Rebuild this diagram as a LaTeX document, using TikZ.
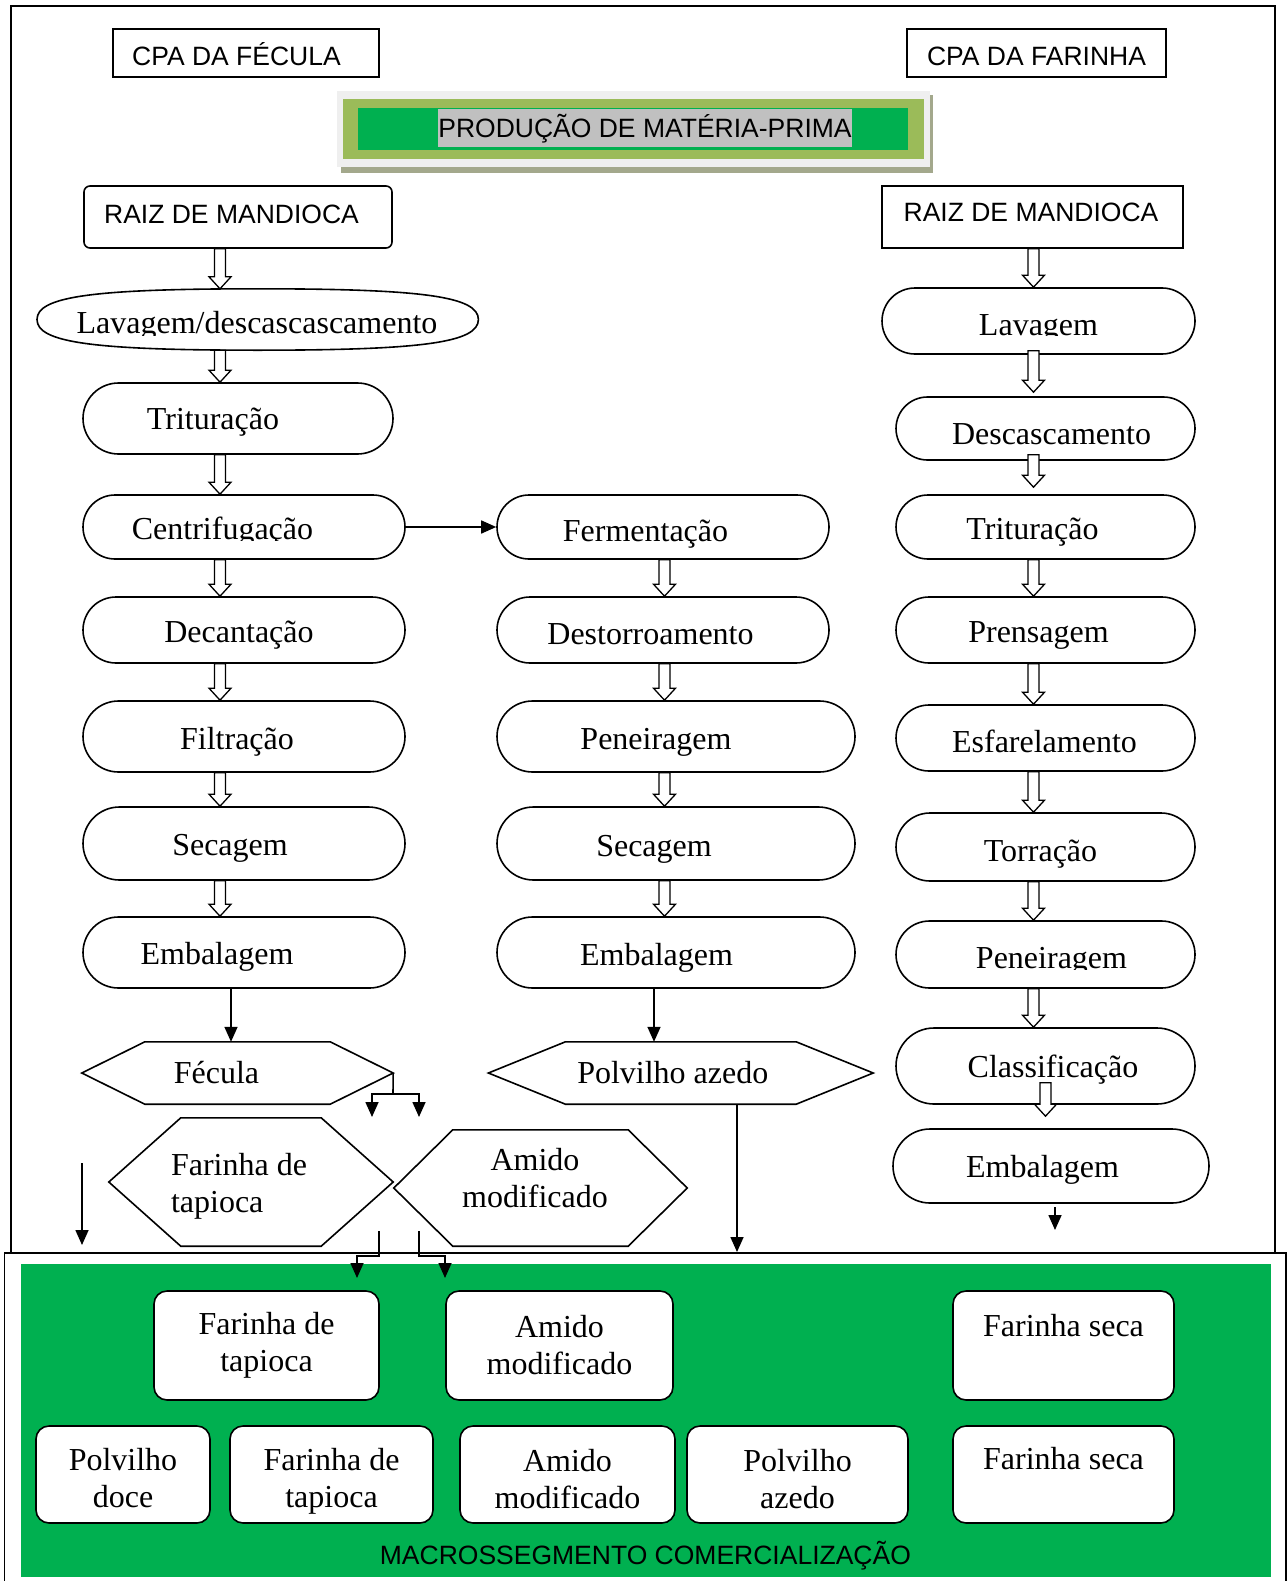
\documentclass[tikz,border=0pt]{standalone}
\usepackage{fontspec}
\setmainfont{Liberation Serif}
\setsansfont{Liberation Sans}
\usetikzlibrary{shapes.misc,arrows.meta,calc}

\definecolor{leafgreen}{HTML}{00B050}
\definecolor{olivegreen}{HTML}{9BBB59}
\definecolor{markgrey}{HTML}{C0C0C0}
\definecolor{palegrey}{HTML}{EFEFEF}
\definecolor{shadowgrey}{HTML}{A3A88C}

% hollow block arrow from #1 down to #2 (x taken from #1)
\newcommand\blockarrow[2]{%
  \path[blockarrowstyle] let \p1=(#1), \p2=(#2) in
    (\x1-5.5pt,\y1) -- (\x1-5.5pt,\y2+12pt) -- (\x1-11pt,\y2+12pt) -- (\x1,\y2)
    -- (\x1+11pt,\y2+12pt) -- (\x1+5.5pt,\y2+12pt) -- (\x1+5.5pt,\y1) -- cycle;}

% hexagon outline drawn on the borders of node #1, point depth #2
\newcommand\hexagon[2]{%
  \draw[hexline] (#1.west) -- ([xshift=#2]#1.north west) -- ([xshift=-#2]#1.north east)
    -- (#1.east) -- ([xshift=-#2]#1.south east) -- ([xshift=#2]#1.south west) -- cycle;}

\tikzset{
  seriffont/.style={font=\fontsize{32}{37}\selectfont},
  lbl/.style={seriffont, inner sep=0pt, text height=21pt, text depth=0pt},
  twolbl/.style={seriffont, inner sep=0pt},
  sanslbl/.style={font=\sffamily\fontsize{26.5}{30}\selectfont, inner sep=0pt, text height=19pt, text depth=0pt},
  rectbox/.style={rectangle, draw, line width=1.6pt, inner sep=0pt, fill=white},
  procbox/.style={rounded rectangle, draw, line width=1.6pt, inner sep=0pt, fill=white},
  hexnode/.style={rectangle, draw=none, inner sep=0pt},
  hexline/.style={line width=1.6pt, line join=miter, fill=white},
  prodbox/.style={rectangle, draw, line width=1.6pt, rounded corners=13pt, fill=white,
    seriffont, align=center, inner sep=0pt},
  flowarrow/.style={line width=1.6pt, -{Triangle[length=15pt,width=13pt]}},
  plainline/.style={line width=1.6pt},
  blockarrowstyle/.style={draw, fill=white, line width=1.3pt, line join=miter},
}

\begin{document}
\begin{tikzpicture}[x=1pt,y=-1pt]
\useasboundingbox (0,0) rectangle (1287,1581);

% frames
\draw[plainline] (11,6) rectangle (1275,1253);
\draw[plainline] (4.5,1253) rectangle (1286,1590);
\fill[leafgreen] (21,1264) rectangle (1271,1577);

% headers
\node[rectbox, minimum width=266pt, minimum height=48pt,
  label={[sanslbl,xshift=-9.5pt,yshift=-3pt]center:CPA DA FÉCULA}] (cpaFec) at (246,53) {};
\node[rectbox, minimum width=259pt, minimum height=48pt,
  label={[sanslbl,yshift=-3pt]center:CPA DA FARINHA}] (cpaFar) at (1036.5,53) {};

% banner
\fill[shadowgrey] (341,95) rectangle (933,173);
\fill[palegrey] (337,91) rectangle (930,167);
\fill[olivegreen] (343,99) rectangle (924,159);
\fill[leafgreen] (358,108) rectangle (908,150);
\node[sanslbl, fill=markgrey, minimum height=38pt] (banner) at (645,128.5) {PRODUÇÃO DE MATÉRIA-PRIMA};

% column x positions
\coordinate (colL) at (220,0);
\coordinate (colM) at (664.5,0);
\coordinate (colR) at (1033.5,0);
\coordinate (colC) at (1045.5,0);
\coordinate (xFec) at (231,0);
\coordinate (xPol) at (654,0);
\coordinate (xPolDown) at (737,0);

% left column
\node[rectbox, rounded corners=6pt, minimum width=308pt, minimum height=62pt,
  label={[sanslbl,xshift=-6.5pt,yshift=3.5pt]center:RAIZ DE MANDIOCA}] (raizL) at (238,217) {};
\node[rectangle, draw=none, inner sep=0pt,
  minimum width=441pt, minimum height=61pt] (lavL) at (257.7,319.5) {};
\draw[line width=1.6pt, fill=white]
  (lavL.west) .. controls +(0,-23) and +(-165,0) .. (lavL.north)
  .. controls +(165,0) and +(0,-23) .. (lavL.east)
  .. controls +(0,23) and +(165,0) .. (lavL.south)
  .. controls +(-165,0) and +(0,23) .. (lavL.west) -- cycle;
\node[procbox, minimum width=310pt, minimum height=71pt,
  label={[lbl,xshift=-25pt,yshift=-0.5pt]center:Trituração}] (tritL) at (238,418.5) {};
\node[procbox, minimum width=322pt, minimum height=64pt] (centL) at (244,527) {};
\node[procbox, minimum width=322pt, minimum height=66pt,
  label={[lbl,xshift=-5pt,yshift=-2pt]center:Decantação}] (decL) at (244,630) {};
\node[procbox, minimum width=322pt, minimum height=71pt,
  label={[lbl,xshift=-7pt,yshift=-2pt]center:Filtração}] (filL) at (244,736.5) {};
\node[procbox, minimum width=322pt, minimum height=73pt,
  label={[lbl,xshift=-14pt,yshift=-1pt]center:Secagem}] (secL) at (244,843.5) {};
\node[procbox, minimum width=322pt, minimum height=71pt,
  label={[lbl,xshift=-27pt,yshift=-1.5pt]center:Embalagem}] (embL) at (244,952.5) {};

% middle column
\node[procbox, minimum width=332pt, minimum height=64pt,
  label={[lbl,xshift=-17.5pt,yshift=-3.5pt]center:Fermentação}] (fermM) at (663,527) {};
\node[procbox, minimum width=332pt, minimum height=66pt,
  label={[lbl,xshift=-12.5pt,yshift=-3.5pt]center:Destorroamento}] (destM) at (663,630) {};
\node[procbox, minimum width=358pt, minimum height=71pt,
  label={[lbl,xshift=-20pt,yshift=-2.5pt]center:Peneiragem}] (peneM) at (676,736.5) {};
\node[procbox, minimum width=358pt, minimum height=73pt,
  label={[lbl,xshift=-22pt,yshift=-2pt]center:Secagem}] (secM) at (676,843.5) {};
\node[procbox, minimum width=358pt, minimum height=71pt,
  label={[lbl,xshift=-19.5pt,yshift=-2pt]center:Embalagem}] (embM) at (676,952.5) {};

% right column
\node[rectbox, minimum width=301pt, minimum height=62pt,
  label={[sanslbl,xshift=-1.5pt,yshift=4.5pt]center:RAIZ DE MANDIOCA}] (raizR) at (1032.5,217) {};
\node[procbox, minimum width=313pt, minimum height=66pt] (lavR) at (1038.5,321) {};
\node[procbox, minimum width=299pt, minimum height=63pt,
  label={[lbl,xshift=6pt,yshift=-5.5pt]center:Descascamento}] (descR) at (1045.5,428.5) {};
\node[procbox, minimum width=299pt, minimum height=64pt,
  label={[lbl,xshift=-13pt,yshift=-2pt]center:Trituração}] (tritR) at (1045.5,527) {};
\node[procbox, minimum width=299pt, minimum height=66pt,
  label={[lbl,xshift=-7pt,yshift=-2pt]center:Prensagem}] (prenR) at (1045.5,630) {};
\node[procbox, minimum width=299pt, minimum height=66pt,
  label={[lbl,xshift=-1pt,yshift=-4pt]center:Esfarelamento}] (esfR) at (1045.5,738) {};
\node[procbox, minimum width=299pt, minimum height=68pt,
  label={[lbl,xshift=-5pt,yshift=-3.5pt]center:Torração}] (torR) at (1045.5,847) {};
\node[procbox, minimum width=299pt, minimum height=67pt] (penR) at (1045.5,954.5) {};
\node[procbox, minimum width=299pt, minimum height=76pt,
  label={[lbl,xshift=7.5pt,yshift=-1pt]center:Classificação}] (clasR) at (1045.5,1066) {};
\node[procbox, minimum width=316pt, minimum height=74pt,
  label={[lbl,xshift=-8.5pt,yshift=-1pt]center:Embalagem}] (embR) at (1051,1166) {};

% texts cut off at the foot of their boxes
\begin{scope}
  \clip (0,0) rectangle (1287,335);
  \node[lbl] (lavLtext) at ($(lavL.center)+(-0.7,3.5)$) {Lavagem/descascascamento};
  \node[lbl] (lavRtext) at ($(lavR.center)+(0,4)$) {Lavagem};
\end{scope}
\begin{scope}
  \clip (0,0) rectangle (1287,540);
  \node[lbl] (centLtext) at ($(centL.center)+(-21.5,2)$) {Centrifugação};
\end{scope}
\begin{scope}
  \clip (0,0) rectangle (1287,969);
  \node[lbl] (penRtext) at ($(penR.center)+(6,3)$) {Peneiragem};
\end{scope}

% products
\node[hexnode, minimum width=311pt, minimum height=62pt] (fec) at (237.5,1073) {};
\hexagon{fec}{63pt}
\node[lbl] (fecText) at ($(fec.center)+(-21,0)$) {Fécula};
\node[hexnode, minimum width=384.4pt, minimum height=62pt] (polv) at (680.8,1073) {};
\hexagon{polv}{77pt}
\node[lbl] (polvText) at ($(polv.center)+(-8,0)$) {Polvilho azedo};
\node[hexnode, minimum width=284pt, minimum height=128pt] (farHex) at (251,1182) {};
\hexagon{farHex}{72pt}
\node[twolbl, align=left, anchor=west] (farText) at ($(farHex.west)+(62,4)$) {Farinha de\\tapioca};
\node[hexnode, minimum width=293pt, minimum height=116pt] (amHex) at (540.5,1188) {};
\hexagon{amHex}{59pt}
\node[twolbl, align=center] (amText) at ($(amHex.center)+(-5.5,-10)$) {Amido\\modificado};

% market boxes
\node[prodbox, minimum width=225pt, minimum height=109pt] (ftT) at (266.5,1345.5) {Farinha de\\tapioca};
\node[prodbox, minimum width=227pt, minimum height=109pt] (amT) at (559.5,1345.5) {Amido\\modificado};
\node[prodbox, minimum width=221pt, minimum height=109pt,
  label={[lbl,yshift=19.5pt]center:Farinha seca}] (fsT) at (1063.5,1345.5) {};
\node[prodbox, minimum width=174pt, minimum height=97pt,
  label={[twolbl,align=center,yshift=-4pt]center:{Polvilho\\doce}}] (pdB) at (123,1474.5) {};
\node[prodbox, minimum width=203pt, minimum height=97pt,
  label={[twolbl,align=center,yshift=-7pt]center:{Farinha de\\tapioca}}] (ftB) at (331.5,1474.5) {};
\node[prodbox, minimum width=215pt, minimum height=97pt,
  label={[twolbl,align=center,yshift=-5pt]center:{Amido\\modificado}}] (amB) at (567.5,1474.5) {};
\node[prodbox, minimum width=221pt, minimum height=97pt,
  label={[twolbl,align=center,yshift=-5pt]center:{Polvilho\\azedo}}] (paB) at (797.5,1474.5) {};
\node[prodbox, minimum width=221pt, minimum height=97pt,
  label={[lbl,yshift=15.5pt]center:Farinha seca}] (fsB) at (1063.5,1474.5) {};
\node[sanslbl] (macro) at (645.4,1554.5) {MACROSSEGMENTO COMERCIALIZAÇÃO};

% hollow step arrows
\blockarrow{raizL.south -| colL}{lavL.north -| colL}
\blockarrow{lavL.south -| colL}{tritL.north -| colL}
\blockarrow{tritL.south -| colL}{centL.north -| colL}
\blockarrow{centL.south -| colL}{decL.north -| colL}
\blockarrow{decL.south -| colL}{filL.north -| colL}
\blockarrow{filL.south -| colL}{secL.north -| colL}
\blockarrow{secL.south -| colL}{embL.north -| colL}

\blockarrow{fermM.south -| colM}{destM.north -| colM}
\blockarrow{destM.south -| colM}{peneM.north -| colM}
\blockarrow{peneM.south -| colM}{secM.north -| colM}
\blockarrow{secM.south -| colM}{embM.north -| colM}

\blockarrow{raizR.south -| colR}{lavR.north -| colR}
\blockarrow{[yshift=4pt]lavR.south -| colR}{[yshift=4pt]descR.north -| colR}
\blockarrow{[yshift=6pt]descR.south -| colR}{[yshift=7pt]tritR.north -| colR}
\blockarrow{tritR.south -| colR}{prenR.north -| colR}
\blockarrow{prenR.south -| colR}{esfR.north -| colR}
\blockarrow{esfR.south -| colR}{torR.north -| colR}
\blockarrow{torR.south -| colR}{penR.north -| colR}
\blockarrow{penR.south -| colR}{clasR.north -| colR}
\blockarrow{[yshift=22pt]clasR.south -| colC}{[yshift=12pt]embR.north -| colC}

% solid connectors
\draw[flowarrow] (centL.east) -- (fermM.west);
\draw[flowarrow] (embL.south -| xFec) -- (fec.north -| xFec);
\draw[flowarrow] (embM.south -| xPol) -- (polv.north -| xPol);

\coordinate (splitJ) at (393,1094);
\coordinate (fecOutA) at (372,1117);
\coordinate (fecOutB) at (419,1117);
\draw[plainline] (fec.east) -- (splitJ);
\draw[flowarrow] (splitJ) -| (fecOutA);
\draw[flowarrow] (splitJ) -| (fecOutB);

\coordinate (leftA) at (82,1163);
\coordinate (leftB) at (82,1245);
\draw[flowarrow] (leftA) -- (leftB);

\coordinate (tapOut) at (379,1231);
\coordinate (amOut) at (419,1231);
\coordinate (tapBend) at (379,1256);
\coordinate (amBend) at (419,1256);
\coordinate (ftTin) at (357,1278);
\coordinate (amTin) at (445,1278);
\draw[flowarrow] (tapOut) -- (tapBend) -| (ftTin);
\draw[flowarrow] (amOut) -- (amBend) -| (amTin);

\coordinate (polvEnd) at (737,1252);
\draw[flowarrow] (polv.south -| xPolDown) -- (polvEnd);

\coordinate (embRa) at (1055,1207);
\coordinate (embRb) at (1055,1230);
\draw[flowarrow] (embRa) -- (embRb);
\end{tikzpicture}
\end{document}
